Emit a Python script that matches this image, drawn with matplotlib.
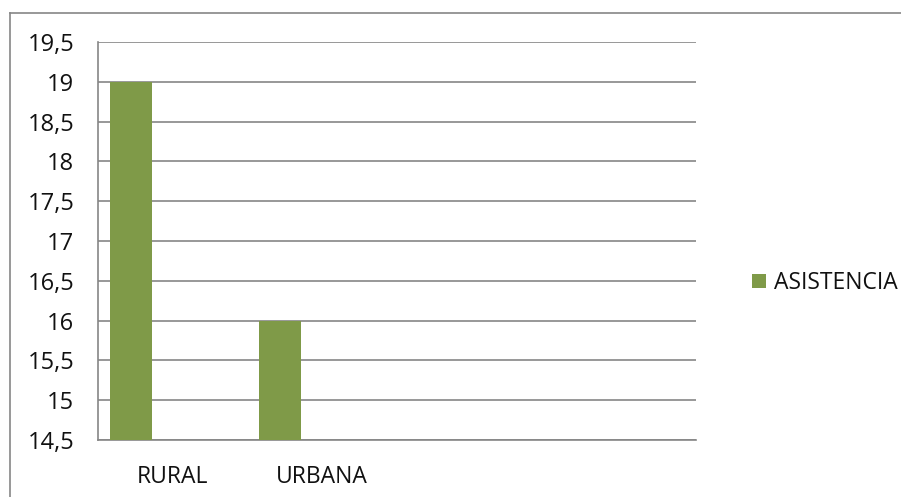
import matplotlib.pyplot as plt
from matplotlib.lines import Line2D
from matplotlib.ticker import FuncFormatter

# attendance by zone
categories = ["RURAL", "URBANA", "", ""]
asistencia = [19, 16, None, None]
series_name = "ASISTENCIA"

plt.rcParams['font.family'] = ['Open Sans', 'DejaVu Sans']

W, H = 901, 497
fig = plt.figure(figsize=(W / 100, H / 100), dpi=100)
ax = fig.add_axes([98 / W, (H - 440) / H, 598 / W, (440 - 42) / H])

bar_w = 0.28
xs = [i for i, v in enumerate(asistencia) if v is not None]
vals = [v for v in asistencia if v is not None]
ax.bar([x - bar_w for x in xs], vals, width=bar_w,
       color='#7f9a48', label=series_name, zorder=3)

ax.set_xlim(-0.5, len(categories) - 0.5)
ax.set_ylim(14.5, 19.5)
ax.set_yticks([14.5 + 0.5 * k for k in range(11)])
ax.yaxis.set_major_formatter(FuncFormatter(
    lambda v, p: ("%g" % v).replace(".", ",")))
ax.set_xticks(range(len(categories)))
ax.set_xticklabels(categories)
ax.tick_params(axis='y', length=0, pad=17, labelsize=17, labelcolor='#111111')
ax.tick_params(axis='x', length=0, pad=18, labelsize=16.5, labelcolor='#111111')

ax.grid(axis='y', color='#868686', linewidth=1.2, zorder=0)
for s in ['top', 'right']:
    ax.spines[s].set_visible(False)
for s in ['left', 'bottom']:
    ax.spines[s].set_color('#868686')
    ax.spines[s].set_linewidth(1.2)

ax.legend(loc='center left', bbox_to_anchor=(731 / W, 1 - 283 / H),
          bbox_transform=fig.transFigure, frameon=False, fontsize=16.5,
          labelcolor='#111111',
          handlelength=0.62, handleheight=0.62, handletextpad=0.35)

# chart area border
fig.add_artist(Line2D([9.5 / W, 1], [1 - 12.5 / H] * 2, color='#868686', lw=1.2))
fig.add_artist(Line2D([9.5 / W] * 2, [0, 1 - 12.5 / H], color='#868686', lw=1.2))

fig.savefig("out.png", dpi=100)
